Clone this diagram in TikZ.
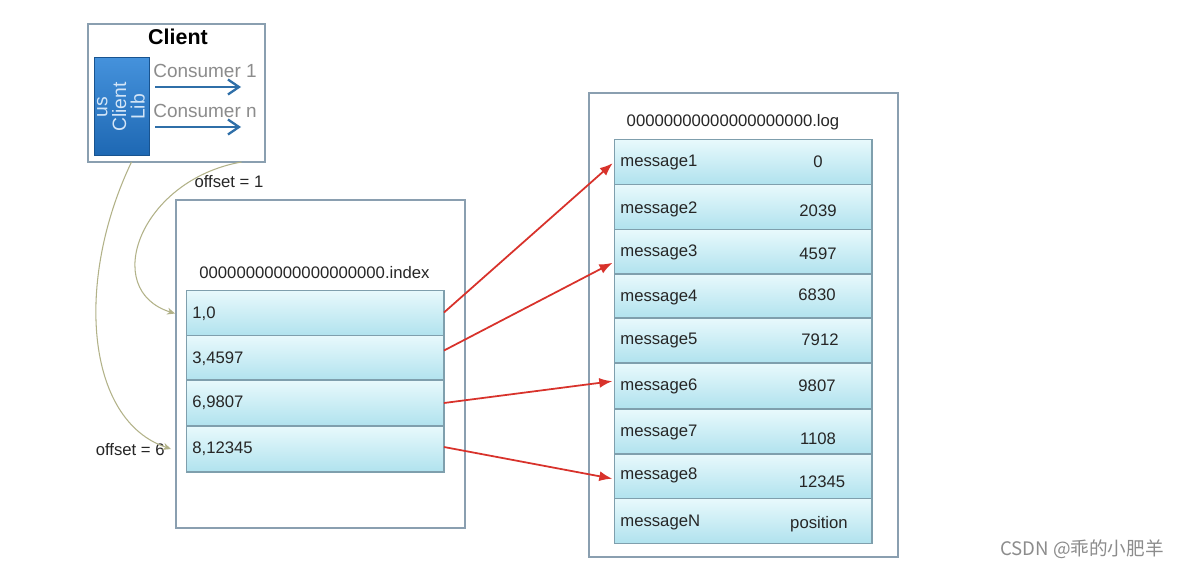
\documentclass[tikz,border=0pt]{standalone}
\usepackage{fontspec}
\setmainfont{Liberation Sans}
\newfontfamily\cjkfont{Noto Sans CJK SC}
\usetikzlibrary{arrows.meta,calc}
\definecolor{framecol}{HTML}{8A9FB0}
\definecolor{rowtop}{HTML}{E8F9FC}
\definecolor{rowbot}{HTML}{B0E2EE}
\definecolor{rowline}{HTML}{7F9FAD}
\definecolor{libtop}{HTML}{4592DC}
\definecolor{libbot}{HTML}{1E68B3}
\definecolor{libtext}{HTML}{D3E5F7}
\definecolor{arrowblue}{HTML}{2F6FA8}
\definecolor{redarrow}{HTML}{D8322B}
\definecolor{olivecurve}{HTML}{B2B288}
\begin{document}
\begin{tikzpicture}[x=0.02cm,y=-0.02cm,
  frame/.style={draw=framecol,line width=0.8pt,fill=white,inner sep=0,outer sep=0},
  irow/.style={draw=rowline,line width=0.6pt,top color=rowtop,bottom color=rowbot,minimum width=5.16cm,minimum height=0.92cm,inner sep=0,outer sep=0},
  lrow/.style={draw=rowline,line width=0.6pt,top color=rowtop,bottom color=rowbot,minimum width=5.16cm,minimum height=0.9cm,inner sep=0,outer sep=0},
  txt/.style={font=\fontsize{9.5}{11}\selectfont,text=black!85,inner sep=0},
  gtxt/.style={font=\fontsize{10.8}{12}\selectfont,text=black!45,inner sep=0,anchor=west},
  bluearrow/.style={draw=arrowblue,line width=1.3pt,-{Straight Barb[length=2.2mm,width=3mm]}},
  ptr/.style={draw=redarrow,line width=1pt,-{Latex[length=2.6mm,width=2mm]}},
  offcurve/.style={draw=olivecurve,line width=0.6pt,-{Stealth[length=1.6mm,width=1.4mm]}}
]
\useasboundingbox[fill=white] (0,0) rectangle (1184,568);

% Client
\node[frame,minimum width=3.54cm,minimum height=2.76cm] (client) at (176.5,93) {};
\node[font=\fontsize{12.2}{14}\selectfont\bfseries,inner sep=0] (clienttitle) at (178,37) {Client};
\node[draw=libbot!80!black,line width=0.4pt,top color=libtop,bottom color=libbot,minimum width=1.1cm,minimum height=1.96cm,inner sep=0] (lib) at (121.5,106) {};
\node[rotate=90,align=center,font=\fontsize{11}{10.6}\selectfont,text=libtext,inner sep=0] (libtext) at (121,107) {us\\Client\\Lib};
\node[gtxt] (cons1) at (153,71) {Consumer 1};
\node[gtxt] (consn) at (153,111) {Consumer n};
\coordinate (c1s) at (155,87);
\coordinate (c1e) at (241,87);
\coordinate (cns) at (155,127);
\coordinate (cne) at (241,127);
\draw[bluearrow] (c1s) -- (c1e);
\draw[bluearrow] (cns) -- (cne);

% Index file
\node[frame,minimum width=5.78cm,minimum height=6.56cm] (index) at (320.5,364) {};
\node[txt] (indexlabel) at (314.5,273) {00000000000000000000.index};
\foreach \n/\y/\t in {1/313.5/{1,0},2/358.5/{3,4597},3/403/{6,9807},4/449/{8,12345}}{
  \node[irow] (i\n) at (315,\y) {};
  \node[txt,anchor=west] (it\n) at (192,\y) {\t};
}

% Log file
\node[frame,minimum width=6.18cm,minimum height=9.28cm] (log) at (743.5,325) {};
\node[txt] (loglabel) at (733,122) {00000000000000000000.log};
\foreach \n/\y/\ty/\m in {1/162/162/message1,2/207/209/message2,3/252/252/message3,4/296.5/297/message4,5/340.5/340/message5,6/386/386/message6,7/432/432/message7,8/476.5/475/message8,9/521/522/messageN}{
  \node[lrow] (m\n) at (743,\y) {};
  \node[txt,anchor=west] (mt\n) at (620,\ty) {\m};
}
\node[txt] (v1) at (818,162) {0};
\node[txt] (v2) at (818,211) {2039};
\node[txt] (v3) at (818,254) {4597};
\node[txt] (v4) at (817,295) {6830};
\node[txt] (v5) at (820,340) {7912};
\node[txt] (v6) at (817,386) {9807};
\node[txt] (v7) at (818,439) {1108};
\node[txt] (v8) at (822,482) {12345};
\node[txt] (v9) at (819,524) {position};

% pointers
\draw[ptr,shorten >=1pt] ([yshift=0.02cm]i1.east) -- (m1.west);
\draw[ptr,shorten >=1pt] ([yshift=0.16cm]i2.east) -- ([yshift=-0.2cm]m3.west);
\draw[ptr,shorten >=1pt] (i3.east) -- ([yshift=0.1cm]m6.west);
\draw[ptr,shorten >=1pt] ([yshift=0.04cm]i4.east) -- ([yshift=-0.05cm]m8.west);

% offsets
\node[txt,anchor=east] (off6) at (165,450) {offset = 6};
\node[txt] (off1) at (229,182) {offset = 1};
\draw[offcurve] ([xshift=-0.9cm]client.south) .. controls (75,280) and (85,420) .. ([xshift=-0.3cm]i4.west);
\draw[offcurve] ([xshift=1.3cm]client.south) .. controls (140,180) and (100,290) .. ([xshift=-0.22cm]i1.west);

% watermark
\node[font=\cjkfont\fontsize{10.6}{12}\selectfont,text=black!45,inner sep=0] (wm) at (1082,549) {CSDN @乖的小肥羊};
\end{tikzpicture}
\end{document}
